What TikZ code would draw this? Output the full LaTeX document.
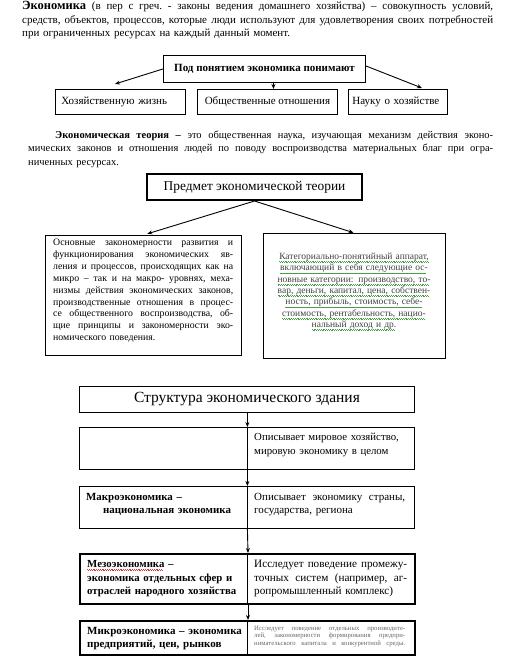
\documentclass[tikz,border=0pt]{standalone}
\usepackage{fontspec}
\setmainfont{Liberation Serif}
\usetikzlibrary{arrows.meta}
\newcommand\fs[2]{\fontsize{#1bp}{#2bp}\selectfont}
\newcommand\jl[2]{\leavevmode\hbox to #1bp{\frenchspacing\spaceskip=0.25em plus 1fil minus 0.05em\relax #2}}
\definecolor{wgreen}{RGB}{70,160,70}
\definecolor{wred}{RGB}{220,50,50}
\newsavebox\wavebox
\newcommand\wavy[2]{\leavevmode\sbox\wavebox{#2}\rlap{\textcolor{#1}{\leaders\hbox{\rule[-2.4bp]{0.9bp}{0.5bp}\rule[-3.0bp]{0.9bp}{0.5bp}}\hskip\wd\wavebox}}\usebox\wavebox}
\newcommand\gw[1]{\wavy{wgreen}{#1}}
\newcommand\rw[1]{\wavy{wred}{#1}}
\begin{document}
\begin{tikzpicture}[x=1bp,y=-1bp,
  box/.style={draw, line width=0.9bp, inner sep=0, anchor=north west},
  thickbox/.style={box, line width=1.5bp},
  arr/.style={-{Stealth[length=5bp,width=4bp]}, line width=0.9bp},
  txt/.style={inner sep=0, anchor=base west, align=left},
]
\useasboundingbox (0,0) rectangle (511,659);

% paragraph 1
\node[txt, text width=471bp, font=\fs{11}{13.5}] (p1) at (22,10)
 {\jl{471}{{\bfseries\fontsize{12.5bp}{13.5bp}\selectfont Экономика} (в пер с греч. - законы ведения домашнего хозяйства) – совокупность условий,}\\
  \jl{471}{средств, объектов, процессов, которые люди используют для удовлетворения своих потребностей}\\
  при ограниченных ресурсах на каждый данный момент.};

% top box and arrows
\node[box, minimum width=202bp, minimum height=27bp, font=\fs{11}{12}\bfseries] (pod) at (163,55) {Под понятием экономика понимают};
\node[box, minimum width=130bp, minimum height=25bp, font=\fs{11}{13}, align=left, text width=118bp, inner xsep=6bp] (hoz) at (55,89) {Хозяйственную жизнь};
\node[box, minimum width=140bp, minimum height=25bp, font=\fs{11}{13}] (obs) at (197,89) {Общественные отношения};
\node[box, minimum width=99bp, minimum height=25bp, font=\fs{11}{13}, align=left, text width=91bp, inner xsep=4bp] (nau) at (348,89) {Науку о хозяйстве};
\coordinate (t1) at (115,84);
\coordinate (t3) at (422,88);
\draw[arr] (pod.west) -- (t1);
\draw[arr] ([xshift=9bp]pod.south) -- ([xshift=6bp]obs.north);
\draw[arr] ([yshift=3bp]pod.east) -- (t3);

% paragraph 2
\node[txt, text width=465bp, font=\fs{10.5}{13.5}] (p2) at (28,138)
 {\jl{465}{\hspace*{27bp}\textbf{Экономическая теория –} это общественная наука, изучающая механизм действия эконо-}\\
  \jl{465}{мических законов и отношения людей по поводу воспроизводства материальных благ при огра-}\\
  ниченных ресурсах.};

% subject of economic theory
\node[box, line width=2bp, minimum width=215bp, minimum height=26bp, font=\fs{13.4}{15}] (pred) at (146,173) {Предмет экономической теории};
\node[box, minimum width=196bp, minimum height=120bp] (lb) at (45,235) {};
\node[box, minimum width=182bp, minimum height=125bp] (rb) at (263,233) {};
\draw[arr, shorten >=4bp] (pred.south) -- (lb.north);
\draw[arr, shorten >=1bp] (pred.south) -- (rb.north);

\node[txt, text width=180bp, font=\fs{9.8}{11.9}] (lt) at (53,245.5)
 {\jl{180}{Основные закономерности развития и}\\
  \jl{180}{функционирования экономических яв-}\\
  \jl{180}{ления и процессов, происходящих как на}\\
  \jl{180}{микро – так и на макро- уровнях, меха-}\\
  \jl{180}{низмы действия экономических законов,}\\
  \jl{180}{производственные отношения в процес-}\\
  \jl{180}{се общественного воспроизводства, об-}\\
  \jl{180}{щие принципы и закономерности эко-}\\
  номического поведения.};

\node[inner sep=0, anchor=base, text width=176bp, align=center, font=\fs{9.5}{11.3}, text=black!75] (rt) at (354,259.5)
 {\gw{Категориально-понятийный аппарат,}\\
  \gw{включающий в себя следующие ос-}\\
  \gw{новные категории: производство, то-}\\
  \gw{вар, деньги, капитал, цена, собствен-}\\
  \gw{ность, прибыль, стоимость, себе-}\\
  \gw{стоимость, рентабельность, нацио-}\\
  \gw{нальный доход и др.}};

% structure
\node[box, minimum width=335bp, minimum height=26bp, font=\fs{15.5}{17}] (st) at (79,386) {Структура экономического здания};

\node[box, minimum width=167.5bp, minimum height=42bp] (r1l) at (79,427) {};
\node[box, minimum width=167.5bp, minimum height=42bp] (r1r) at (246.5,427) {};
\node[txt, text width=155bp, font=\fs{10.8}{14}] (r1t) at (254,440.5) {Описывает мировое хозяйство,\\ мировую экономику в целом};

\node[box, minimum width=167.5bp, minimum height=42bp] (r2l) at (79,486) {};
\node[box, minimum width=167.5bp, minimum height=42bp] (r2r) at (246.5,486) {};
\node[txt, text width=160bp, font=\fs{10.9}{13}\bfseries] (r2lt) at (86,500.5) {Макроэкономика –\\ \hspace*{17bp}национальная экономика};
\node[txt, text width=151bp, font=\fs{11}{13}] (r2rt) at (254,500.5) {\jl{151}{Описывает экономику страны,}\\ государства, региона};

\node[thickbox, minimum width=167.5bp, minimum height=50bp] (r3l) at (79,553) {};
\node[thickbox, minimum width=167.5bp, minimum height=50bp] (r3r) at (246.5,553) {};
\node[txt, text width=160bp, font=\fs{10.8}{13.5}\bfseries] (r3lt) at (87,567.5) {\rw{Мезоэкономика} –\\ экономика отдельных сфер и\\ отраслей народного хозяйства};
\node[txt, text width=153bp, font=\fs{11.2}{13.5}] (r3rt) at (254,567.5) {\jl{153}{Исследует поведение промежу-}\\ \jl{153}{точных систем (например, аг-}\\ ропромышленный комплекс)};

\node[thickbox, minimum width=167.5bp, minimum height=34bp] (r4l) at (79,620) {};
\node[thickbox, minimum width=167.5bp, minimum height=34bp] (r4r) at (246.5,620) {};
\node[txt, text width=160bp, font=\fs{11}{13}\bfseries] (r4lt) at (87,634.5) {Микроэкономика – экономика\\ предприятий, цен, рынков};
\node[txt, text width=151bp, font=\fs{6.7}{7.5}, text=black!60] (r4rt) at (254,630.2)
 {\jl{151}{Исследует поведение отдельных производите-}\\
  \jl{151}{лей, закономерности формирования предпри-}\\
  \jl{151}{нимательского капитала и конкурентной среды.}};

\draw[arr] (st.south -| r1l.north east) -- (r1l.north east);
\draw[arr] (r1l.south east) -- (r2l.north east);
\draw[arr] (r2l.south east) -- (r3l.north east);
\draw[arr] (r3l.south east) -- (r4l.north east);
\end{tikzpicture}
\end{document}
